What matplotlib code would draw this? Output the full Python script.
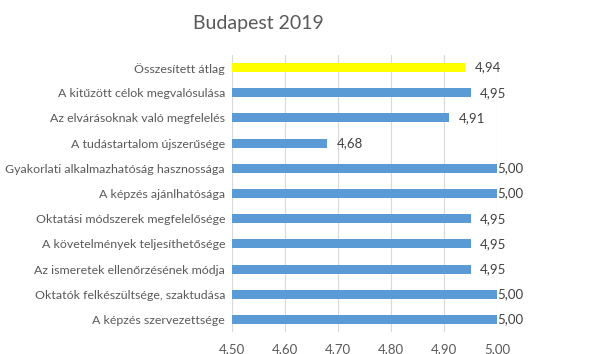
import matplotlib
matplotlib.use("Agg")
import matplotlib.pyplot as plt

categories = [
    "Összesített átlag",
    "A kitűzött célok megvalósulása",
    "Az elvárásoknak való megfelelés",
    "A tudástartalom újszerűsége",
    "Gyakorlati alkalmazhatóság hasznossága",
    "A képzés ajánlhatósága",
    "Oktatási módszerek megfelelősége",
    "A követelmények teljesíthetősége",
    "Az ismeretek ellenőrzésének módja",
    "Oktatók felkészültsége, szaktudása",
    "A képzés szervezettsége",
]
values = [4.94, 4.95, 4.91, 4.68, 5.00, 5.00, 4.95, 4.95, 4.95, 5.00, 5.00]
xticks = [4.50, 4.60, 4.70, 4.80, 4.90, 5.00]
title = "Budapest 2019"

plt.rcParams['font.family'] = ['Lato', 'DejaVu Sans']
text_color = "#595959"

fig = plt.figure(figsize=(6.0, 3.54), dpi=100)
ax = fig.add_axes([232/600, 1 - 332/354, (497-232)/600, (332-55)/354])

colors = ["#FFFF00"] + ["#5B9BD5"] * (len(values) - 1)
ypos = list(range(len(values)))
ax.barh(ypos, [v - xticks[0] for v in values], left=xticks[0], height=0.36,
        color=colors, zorder=3)
ax.set_ylim(len(values) - 0.5, -0.5)
ax.set_xlim(xticks[0], xticks[-1])
ax.set_xticks(xticks)
ax.set_xticklabels([f"{t:.2f}".replace(".", ",") for t in xticks],
                   fontsize=9.5, color=text_color)
ax.set_yticks(ypos)
ax.set_yticklabels(categories, fontsize=8.9, color=text_color)
ax.tick_params(axis='both', length=0)
ax.tick_params(axis='x', pad=8)
ax.tick_params(axis='y', pad=5)
ax.grid(axis='x', color="#D9D9D9", linewidth=0.8, zorder=0)
for s in ax.spines.values():
    s.set_visible(False)

for y, v in zip(ypos, values):
    off = 0 if v >= 5.0 else 7
    ax.annotate(f"{v:.2f}".replace(".", ","), (v, y), xytext=(off, 0),
                textcoords="offset points", va="center", ha="left",
                fontsize=9.5, color="#404040", zorder=4, annotation_clip=False)

fig.text(258/600, 1 - 23/354, title, ha="center", va="center",
         fontsize=14, color=text_color)

fig.savefig("out.png", dpi=100)
